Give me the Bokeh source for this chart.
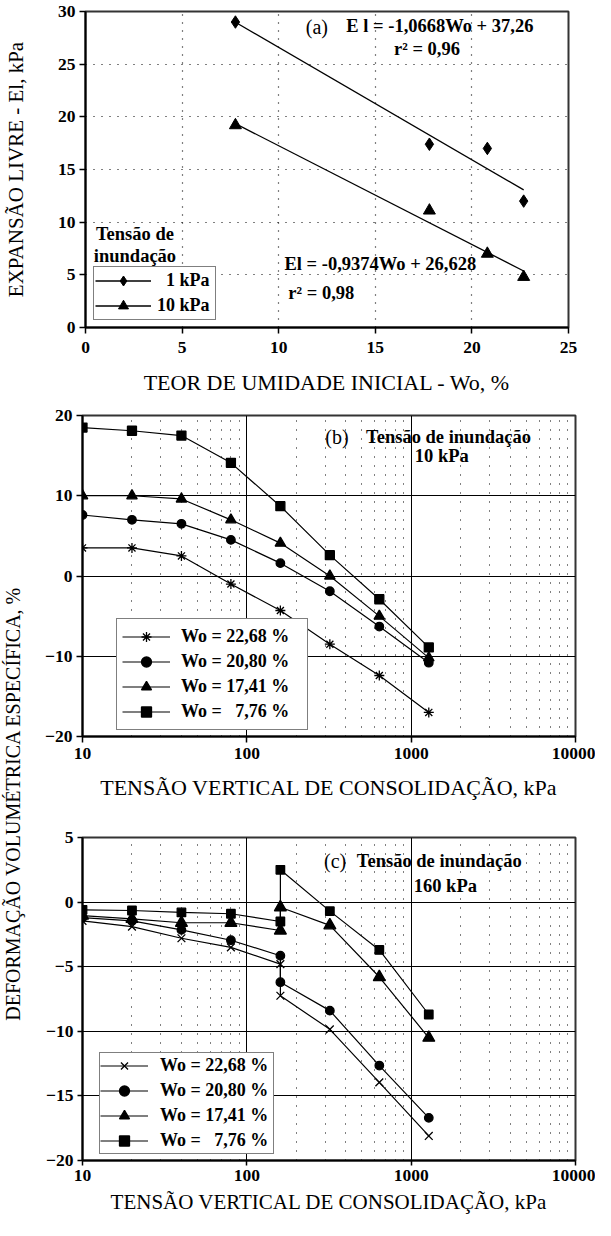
from bokeh.plotting import figure
from bokeh.models import Range1d, FixedTicker, Label, Legend, LegendItem
from bokeh.layouts import column, row
from bokeh.embed import file_html
from bokeh.resources import INLINE

FONT = "Liberation Serif"

# ---------------- data: panel (a) ----------------
wo_a = [7.76, 17.8, 20.8, 22.68]
el_1kpa = [29.0, 17.4, 17.0, 12.0]
el_10kpa = [19.2, 11.1, 7.0, 4.8]
fit_1kpa = (-1.0668, 37.26)
fit_10kpa = (-0.9374, 26.628)
ticks_a_x = [0, 5, 10, 15, 20, 25]
ticks_a_y = [0, 5, 10, 15, 20, 25, 30]
legend_a = ["\u20071 kPa", "10 kPa"]

# ---------------- data: panel (b) ----------------
tension_b = [10, 20, 40, 80, 160, 320, 640, 1280]
b_2268 = [3.5, 3.5, 2.5, -1.0, -4.3, -8.5, -12.4, -17.0]
b_2080 = [7.6, 7.0, 6.5, 4.5, 1.6, -1.9, -6.3, -10.8]
b_1741 = [10.0, 10.0, 9.6, 7.0, 4.1, 0.0, -5.0, -10.2]
b_776 = [18.5, 18.1, 17.5, 14.1, 8.7, 2.6, -2.9, -8.9]

# ---------------- data: panel (c) ----------------
tension_c = [10, 20, 40, 80, 160, 160, 320, 640, 1280]
c_2268 = [-1.45, -1.9, -2.8, -3.5, -4.8, -7.25, -9.85, -13.95, -18.1]
c_2080 = [-1.2, -1.45, -2.15, -2.95, -4.15, -6.2, -8.4, -12.65, -16.7]
c_1741 = [-1.05, -1.3, -1.6, -1.6, -2.2, -0.4, -1.8, -5.8, -10.5]
c_776 = [-0.6, -0.65, -0.8, -0.9, -1.5, 2.5, -0.7, -3.7, -8.7]

legend_bc = ["Wo = 22,68 %", "Wo = 20,80 %", "Wo = 17,41 %", "Wo = \u20077,76 %"]
log_ticks = [10, 100, 1000, 10000]
ticks_b_y = [-20, -10, 0, 10, 20]
ticks_c_y = [-20, -15, -10, -5, 0, 5]

x_title_a = "TEOR DE UMIDADE INICIAL - Wo, %"
y_title_a = "EXPANSÃO LIVRE - El, kPa"
x_title_bc = "TENSÃO VERTICAL DE CONSOLIDAÇÃO, kPa"
y_title_bc = "DEFORMAÇÃO VOLUMÉTRICA ESPECÍFICA, %"

log_minor = [k * 10 ** d for d in (1, 2, 3) for k in range(2, 10)]


def style_axes(p, title_size, label_standoff, title_standoff, tick_out=6):
    for ax in list(p.xaxis) + list(p.yaxis):
        ax.axis_line_color = "black"
        ax.axis_line_width = 2
        ax.major_tick_line_color = "black"
        ax.major_tick_line_width = 1.5
        ax.major_tick_out = tick_out
        ax.major_tick_in = 0
        ax.minor_tick_line_color = None
        ax.major_label_text_font = FONT
        ax.major_label_text_font_style = "bold"
        ax.major_label_text_font_size = "17.5px"
        ax.major_label_text_color = "black"
        ax.axis_label_text_font = FONT
        ax.axis_label_text_font_style = "normal"
        ax.axis_label_text_font_size = title_size
        ax.axis_label_text_color = "black"
    for ax in p.xaxis:
        ax.major_label_standoff = label_standoff
        ax.axis_label_standoff = title_standoff
    for ax in p.yaxis:
        ax.major_label_standoff = 4
    p.outline_line_color = "#333333"
    p.outline_line_width = 2
    p.background_fill_color = "white"
    p.border_fill_color = "white"


def add_text(p, x, y, text, bold=True, size="18.5px", align="left"):
    p.add_layout(Label(x=x, y=y, text=text, text_font=FONT,
                       text_font_style="bold" if bold else "normal",
                       text_font_size=size, text_color="black",
                       text_align=align, text_baseline="middle"))


def make_legend(items, loc, padding, spacing, glyph_w, standoff, label_w, size="18px"):
    kw = dict(items=items, location=loc, border_line_color="black",
              border_line_width=1, background_fill_color="white",
              background_fill_alpha=1, label_text_font=FONT,
              label_text_font_style="bold", label_text_font_size=size,
              label_text_color="black", glyph_width=glyph_w,
              glyph_height=25, label_height=16, label_width=label_w,
              padding=padding, margin=0, label_standoff=standoff)
    try:
        return Legend(spacing=spacing, **kw)
    except Exception:
        return Legend(spacing=0, **kw)


# ================= panel (a) =================
pa = figure(width=595, height=400, x_range=Range1d(0, 25), y_range=Range1d(0, 30),
            min_border_left=81, min_border_right=27, min_border_top=11,
            min_border_bottom=73, toolbar_location=None, output_backend="svg")
pa.xaxis.ticker = FixedTicker(ticks=ticks_a_x)
pa.yaxis.ticker = FixedTicker(ticks=ticks_a_y)
pa.xaxis.axis_label = x_title_a
pa.yaxis.axis_label = y_title_a
style_axes(pa, "22px", 8, 14)
pa.yaxis.axis_label_text_font_size = "21px"
pa.yaxis.axis_label_standoff = 27
pa.grid.grid_line_color = "black"
pa.grid.grid_line_dash = "1 7"
pa.grid.grid_line_width = 1.2

xf = [min(wo_a), max(wo_a)]
l1 = pa.line(xf, [fit_1kpa[0] * v + fit_1kpa[1] for v in xf], line_color="black", line_width=1.3)
l2 = pa.line(xf, [fit_10kpa[0] * v + fit_10kpa[1] for v in xf], line_color="black", line_width=1.3)
s1 = pa.scatter(wo_a, el_1kpa, marker="diamond", size=12.5,
                fill_color="black", line_color="black")
s2 = pa.scatter(wo_a, el_10kpa, marker="triangle", size=12,
                fill_color="black", line_color="black")
pa.add_layout(make_legend([LegendItem(label=legend_a[0], renderers=[l1, s1]),
                           LegendItem(label=legend_a[1], renderers=[l2, s2])],
                          (8, 7), 1, -8, 56, 6, 57))
add_text(pa, 11.4, 28.49, "(a)", bold=False, size="20px")
add_text(pa, 13.5, 28.67, "E l = -1,0668Wo + 37,26")
add_text(pa, 15.97, 26.4, "r² = 0,96")
add_text(pa, 2.56, 8.9, "Tensão de", align="center")
add_text(pa, 2.56, 6.79, "inundação", align="center")
add_text(pa, 10.3, 6.06, "El = -0,9374Wo + 26,628")
add_text(pa, 10.5, 3.31, "r² = 0,98")


# ================= panels (b) and (c) =================
def log_panel(height, top, bottom, left, right, yr, yticks, lab_std, title_std,
              title_size, tick_out):
    p = figure(width=563, height=height, x_axis_type="log",
               x_range=Range1d(10, 10000), y_range=Range1d(*yr),
               min_border_left=left, min_border_right=right, min_border_top=top,
               min_border_bottom=bottom, toolbar_location=None, output_backend="svg")
    p.xaxis.ticker = FixedTicker(ticks=log_ticks, minor_ticks=log_minor)
    p.xaxis.major_label_overrides = {t: str(t) for t in log_ticks}
    p.yaxis.ticker = FixedTicker(ticks=yticks)
    p.xaxis.axis_label = x_title_bc
    style_axes(p, title_size, lab_std, title_std, tick_out)
    p.xgrid.grid_line_color = "black"
    p.xgrid.grid_line_width = 1
    p.xgrid.minor_grid_line_color = "black"
    p.xgrid.minor_grid_line_dash = "1 8"
    p.xgrid.minor_grid_line_width = 1
    p.ygrid.grid_line_color = "black"
    p.ygrid.grid_line_width = 1
    return p


def draw_series(p, xs, series, legend_args):
    items = []
    for (ys, marker, size), lab in zip(series, legend_bc):
        ln = p.line(xs, ys, line_color="black", line_width=1.2)
        sc = p.scatter(xs, ys, marker=marker, size=size, fill_color="black",
                       line_color="black", line_width=1.3)
        items.append(LegendItem(label=lab, renderers=[ln, sc]))
    p.add_layout(make_legend(items, *legend_args))


pb = log_panel(405, 15, 69, 48, 20, (-20, 20), ticks_b_y, 5, 13, "22px", 6)
draw_series(pb, tension_b, [(b_2268, "asterisk", 10), (b_2080, "circle", 8.5),
                            (b_1741, "triangle", 10.5), (b_776, "square", 9)],
            ((34, 6), 5, -7, 48, 11, 121))
add_text(pb, 300, 17.38, "(b)", bold=False, size="20px")
add_text(pb, 531.6, 17.38, "Tensão de inundação")
add_text(pb, 1053, 14.9, "10 kPa")

pc = log_panel(415, 32, 60, 50, 13, (-20, 5), ticks_c_y, 4, 6, "21px", 5)
draw_series(pc, tension_c, [(c_2268, "x", 11), (c_2080, "circle", 8.5),
                            (c_1741, "triangle", 12), (c_776, "square", 8.5)],
            ((17, 6), 0, -7, 48, 12, 113))
add_text(pc, 295, 3.2, "(c)", bold=False, size="20px")
add_text(pc, 467, 3.2, "Tensão de inundação")
add_text(pc, 1036.6, 1.28, "160 kPa")

# shared y title for (b) and (c)
plab = figure(width=32, height=820, x_range=Range1d(0, 1), y_range=Range1d(0, 1),
              toolbar_location=None, output_backend="svg", min_border=0,
              x_axis_location=None, y_axis_location=None)
plab.grid.visible = False
plab.outline_line_color = None
plab.add_layout(Label(x=12, y=417, x_units="screen", y_units="screen", text=y_title_bc,
                      angle=90, angle_units="deg", text_align="center",
                      text_baseline="middle", text_font=FONT, text_font_size="20px",
                      text_color="black"))

layout = column(pa, row(plab, column(pb, pc)))
open("out.html", "w").write(file_html(layout, INLINE))
